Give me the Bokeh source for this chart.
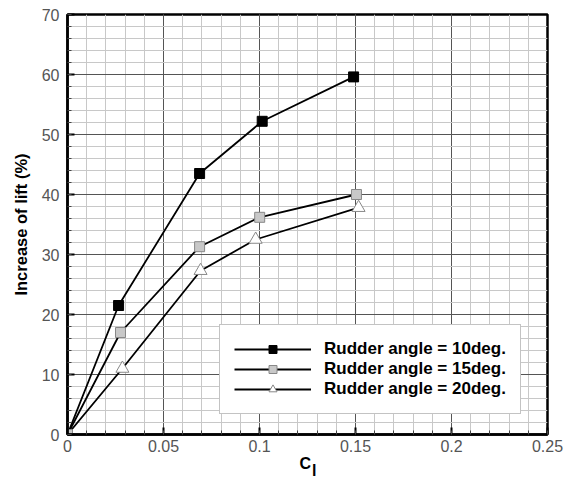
from bokeh.plotting import figure
from bokeh.models import FixedTicker, Legend, LegendItem
from bokeh.embed import file_html
from bokeh.resources import INLINE

# ---- data ----
ci_10 = [0.0, 0.0266, 0.0688, 0.1014, 0.149]
lift_10 = [0.0, 21.5, 43.5, 52.2, 59.6]
ci_15 = [0.0, 0.0276, 0.0688, 0.1001, 0.1505]
lift_15 = [0.0, 17.0, 31.3, 36.2, 40.0]
ci_20 = [0.0, 0.0286, 0.0693, 0.098, 0.1516]
lift_20 = [0.0, 11.0, 27.3, 32.5, 37.8]

labels = ["Rudder angle = 10deg.", "Rudder angle = 15deg.", "Rudder angle = 20deg."]

x_ticks = [0, 0.05, 0.1, 0.15, 0.2, 0.25]
x_tick_labels = ["0", "0.05", "0.1", "0.15", "0.2", "0.25"]
x_minor = [round(i * 0.01, 2) for i in range(0, 26)]
y_ticks = [0, 10, 20, 30, 40, 50, 60, 70]
y_minor = list(range(0, 71, 2))

FONT = "Liberation Sans"
NB = "\u00a0"

p = figure(frame_width=480, frame_height=420,
           min_border_left=67, min_border_right=23,
           min_border_top=14, min_border_bottom=44,
           x_range=(0, 0.25), y_range=(0, 70),
           output_backend="svg", toolbar_location=None,
           background_fill_color="white", border_fill_color="white")

p.outline_line_color = "black"
p.outline_line_width = 2.5

# tickers
xt = FixedTicker(ticks=x_ticks, minor_ticks=x_minor)
yt = FixedTicker(ticks=y_ticks, minor_ticks=y_minor)
p.xaxis.ticker = xt
p.yaxis.ticker = yt
p.xgrid.ticker = xt
p.ygrid.ticker = yt
p.xaxis.major_label_overrides = {t: l for t, l in zip(x_ticks, x_tick_labels)}

for g in (p.xgrid, p.ygrid):
    g.grid_line_color = "#555555"
    g.grid_line_width = 1
    g.minor_grid_line_color = "#c8c8c8"
    g.minor_grid_line_width = 1

for ax in (p.xaxis, p.yaxis):
    ax.axis_line_color = "black"
    ax.axis_line_width = 2.5
    ax.major_tick_in = 7
    ax.major_tick_out = 0
    ax.minor_tick_in = 4
    ax.minor_tick_out = 0
    ax.major_tick_line_color = "black"
    ax.major_tick_line_width = 2
    ax.minor_tick_line_color = "#444444"
    ax.minor_tick_line_width = 1
    ax.major_label_text_font = FONT
    ax.major_label_text_font_size = "16px"
    ax.major_label_text_color = "#555555"
    ax.axis_label_text_font = FONT
    ax.axis_label_text_font_style = "bold"
    ax.axis_label_text_color = "black"

p.yaxis.major_label_standoff = 8
p.yaxis.axis_label = "Increase of lift (%)"
p.yaxis.axis_label_text_font_size = "16.5px"
p.yaxis.axis_label_standoff = 9

# x-axis title "C" with a lowered "l" (two-line label, tight line height)
p.xaxis.major_label_standoff = 5
p.xaxis.axis_label = "C" + NB + "\n" + NB * 3 + "l"
p.xaxis.axis_label_text_font_size = "16px"
p.xaxis.axis_label_text_line_height = 0.45
p.xaxis.axis_label_standoff = 0

# series
l10 = p.line(ci_10, lift_10, line_color="black", line_width=1.8)
l15 = p.line(ci_15, lift_15, line_color="black", line_width=1.8)
l20 = p.line(ci_20, lift_20, line_color="black", line_width=1.8)
m10 = p.scatter(ci_10, lift_10, marker="square", size=10,
                fill_color="black", line_color="black", line_width=1)
m20 = p.scatter(ci_20, lift_20, marker="triangle", size=13,
                fill_color="white", line_color="#888888", line_width=1)
m15 = p.scatter(ci_15, lift_15, marker="square", size=10,
                fill_color="#c8c8c8", line_color="#888888", line_width=1)

legend = Legend(items=[
    LegendItem(label=labels[0], renderers=[l10, m10]),
    LegendItem(label=labels[1], renderers=[l15, m15]),
    LegendItem(label=labels[2], renderers=[l20, m20]),
], location=(152, 20))
legend.glyph_width = 77
legend.glyph_height = 20
legend.label_height = 20
legend.spacing = 0
legend.padding = 14
legend.label_standoff = 13
legend.label_text_font = FONT
legend.label_text_font_style = "bold"
legend.label_text_font_size = "17px"
legend.label_text_color = "black"
legend.border_line_color = "#888888"
legend.border_line_width = 1
legend.background_fill_color = "white"
legend.background_fill_alpha = 1
p.add_layout(legend, "center")

open("out.html", "w").write(file_html(p, INLINE))
